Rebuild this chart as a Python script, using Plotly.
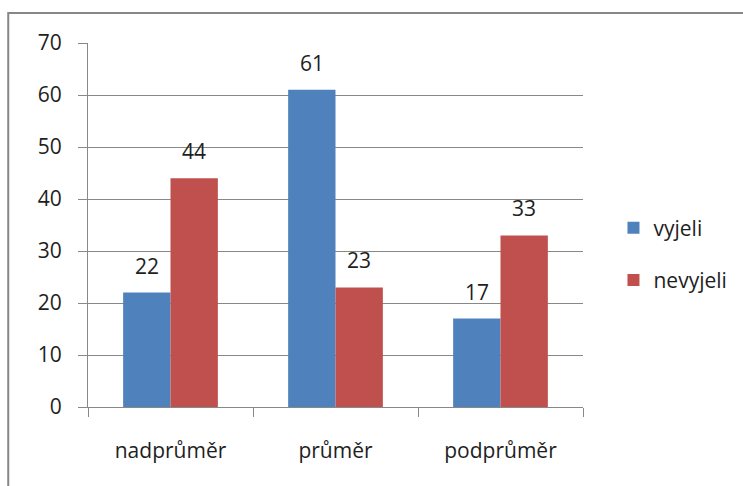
import plotly.graph_objects as go

categories = ["nadprůměr", "průměr", "podprůměr"]
vyjeli = [22, 61, 17]
nevyjeli = [44, 23, 33]
series_names = ["vyjeli", "nevyjeli"]
y_ticks = [0, 10, 20, 30, 40, 50, 60, 70]

colors = ["#4F81BD", "#C0504D"]
font = dict(family="Open Sans", size=21, color="#1e1e1e")
grid = "#888888"

fig = go.Figure()
for i, (name, vals) in enumerate(zip(series_names, [vyjeli, nevyjeli])):
    fig.add_trace(go.Bar(
        x=categories, y=vals, name=name,
        marker=dict(color=colors[i], line=dict(width=0)),
        legendgroup=name,
    ))

# value labels sitting above each bar
bar_shift = 23.75
for i, vals in enumerate([vyjeli, nevyjeli]):
    for c, v in zip(categories, vals):
        fig.add_annotation(
            x=c, y=v, text=str(v), showarrow=False,
            xshift=(-bar_shift if i == 0 else bar_shift),
            yshift=27, font=font,
        )

# outer chart frame
W, H = 743, 486
ml, mr, mt, mb = 88, 158.5, 43, 79
pw, ph = W - ml - mr, H - mt - mb
fig.add_shape(
    type="rect", xref="paper", yref="paper",
    x0=(8 - ml) / pw, x1=(760 - ml) / pw,
    y0=(H - mb - 500) / ph, y1=(H - mb - 13) / ph,
    line=dict(color="#878787", width=2), fillcolor="rgba(0,0,0,0)",
    layer="below",
)

fig.update_layout(
    width=W, height=H,
    margin=dict(l=ml, r=mr, t=mt, b=mb, pad=0),
    paper_bgcolor="white", plot_bgcolor="white",
    font=font,
    barmode="group", bargap=0.426, bargroupgap=0,
    showlegend=True,
    legend=dict(
        x=(614 - ml) / pw, xanchor="left",
        y=(H - mb - 254) / ph, yanchor="middle",
        tracegroupgap=22, font=font, itemwidth=30,
        bgcolor="rgba(0,0,0,0)", itemsizing="constant",
    ),
    xaxis=dict(
        type="category", tickson="boundaries", ticks="outside", ticklen=9,
        tickcolor=grid, showline=True, linecolor=grid, linewidth=1,
        showgrid=False, ticklabelstandoff=25, fixedrange=True,
    ),
    yaxis=dict(
        range=[0, 70], tickvals=y_ticks, ticks="outside", ticklen=9,
        tickcolor=grid, showline=True, linecolor=grid, linewidth=1,
        showgrid=True, gridcolor=grid, gridwidth=1, zeroline=False,
        ticklabelstandoff=12, fixedrange=True,
    ),
)

fig.write_html("out.html")
